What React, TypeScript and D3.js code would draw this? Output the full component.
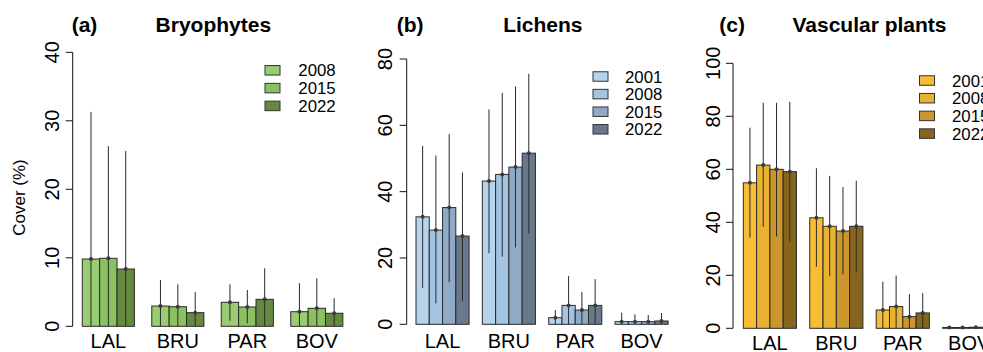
import React from "react";
import * as d3 from "d3";

const categories = ["LAL", "BRU", "PAR", "BOV"];

const bryoYears = ["2008", "2015", "2022"];
const bryoColors = ["#9acd72", "#8bc161", "#64893f"];
const bryoMean = [[9.82, 9.93, 8.36], [2.96, 2.86, 1.99], [3.5, 2.82, 3.94], [2.13, 2.63, 1.9]];
const bryoUpper = [[31.3, 26.3, 25.6], [6.76, 6.13, 5.0], [6.13, 5.3, 8.47], [6.28, 7.0, 4.1]];
const bryoLower = [[0, 0, 0], [0, 0, 0], [0.82, 0.43, 0], [0, 0, 0]];
const bryoTicks = [0, 10, 20, 30, 40];

const lichYears = ["2001", "2008", "2015", "2022"];
const lichColors = ["#b6d3ec", "#a4c4e4", "#8eaac7", "#68798c"];
const lichMean = [[32.4, 28.4, 35.2, 26.6], [43.2, 45.2, 47.4, 51.6], [2.0, 5.7, 4.3, 5.7], [0.8, 0.8, 0.8, 1.0]];
const lichUpper = [[53.8, 50.9, 57.4, 45.8], [64.8, 69.8, 71.7, 75.5], [4.3, 14.6, 9.8, 13.6], [3.5, 3.0, 2.8, 3.4]];
const lichLower = [[11.0, 6.3, 12.7, 7.1], [21.4, 20.4, 23.2, 27.4], [0, 0, 0, 0], [0, 0, 0, 0]];
const lichTicks = [0, 20, 40, 60, 80];

const vascYears = ["2001", "2008", "2015", "2022"];
const vascColors = ["#f9bc35", "#eab231", "#cb962b", "#86651d"];
const vascMean = [[54.9, 61.6, 60.0, 59.1], [41.7, 38.5, 36.7, 38.5], [6.9, 8.2, 4.4, 5.8], [0.3, 0.3, 0.4, 0.3]];
const vascUpper = [[75.7, 85.1, 85.1, 85.5], [60.4, 57.5, 53.3, 55.7], [17.6, 19.9, 12.9, 13.3], [0.6, 0.6, 0.7, 0.6]];
const vascLower = [[34.2, 38.3, 34.6, 32.7], [23.2, 19.7, 20.4, 21.1], [0, 0, 0, 0], [0, 0, 0, 0]];
const vascTicks = [0, 20, 40, 60, 80, 100];

const FONT = "'Liberation Sans', Arial, Helvetica, sans-serif";

type PanelProps = {
  tag: string;
  title: string;
  years: string[];
  colors: string[];
  mean: number[][];
  upper: number[][];
  lower: number[][];
  ticks: number[];
  layout: {
    axisX: number;
    yBottom: number;
    yTop: number;
    firstBarX: number;
    unit: number;
    plotRight: number;
    tickLabelX: number;
    catBaseline: number;
    tagX: number;
    legBoxX: number;
    legTextX: number;
    legRow0: number;
    legStep: number;
  };
};

function Panel(p: PanelProps) {
  const L = p.layout;
  const n = p.years.length;
  const y = d3.scaleLinear().domain([0, p.ticks[p.ticks.length - 1]]).range([L.yBottom, L.yTop]);
  const x = d3.scaleLinear().domain([1, 2]).range([L.firstBarX, L.firstBarX + L.unit]);
  const titleCenter = (L.axisX + L.plotRight) / 2;
  const bars: React.ReactNode[] = [];
  const errs: React.ReactNode[] = [];
  categories.forEach((c, g) => {
    for (let i = 0; i < n; i++) {
      const left = g * (n + 1) + i + 1;
      const x0 = x(left);
      const x1 = x(left + 1);
      const m = p.mean[g][i];
      bars.push(
        <rect key={`b${g}-${i}`} x={x0} y={y(m)} width={x1 - x0} height={y(0) - y(m)}
          fill={p.colors[i]} stroke="#2a2a2a" strokeWidth={1} />
      );
      const cx = x(left + 0.5);
      errs.push(
        <g key={`e${g}-${i}`}>
          <line x1={cx} x2={cx} y1={y(p.lower[g][i])} y2={y(p.upper[g][i])} stroke="#2a2a2a" strokeWidth={1} />
          <circle cx={cx} cy={y(m)} r={2} fill="#3a3a3a" />
        </g>
      );
    }
  });
  return (
    <g>
      <text x={L.tagX} y={32} fontFamily={FONT} fontWeight="bold" fontSize={21}>{p.tag}</text>
      <text x={titleCenter} y={32} fontFamily={FONT} fontWeight="bold" fontSize={21} textAnchor="middle">{p.title}</text>
      <line x1={L.axisX} x2={L.axisX} y1={y(p.ticks[0])} y2={y(p.ticks[p.ticks.length - 1])} stroke="#111" strokeWidth={1} />
      {p.ticks.map((t) => (
        <g key={`t${t}`}>
          <line x1={L.axisX - 7} x2={L.axisX} y1={y(t)} y2={y(t)} stroke="#111" strokeWidth={1} />
          <text transform={`translate(${L.tickLabelX},${y(t)}) rotate(-90)`} textAnchor="middle"
            fontFamily={FONT} fontSize={20}>{t}</text>
        </g>
      ))}
      {bars}
      {errs}
      {categories.map((c, g) => (
        <text key={`c${c}`} x={x(g * (n + 1) + 1 + n / 2)} y={L.catBaseline} textAnchor="middle"
          fontFamily={FONT} fontSize={20}>{c}</text>
      ))}
      {p.years.map((yr, i) => {
        const cy = L.legRow0 + i * L.legStep;
        return (
          <g key={`l${yr}`}>
            <rect x={L.legBoxX} y={cy - 4.75} width={15} height={9.5} fill={p.colors[i]} stroke="#333" strokeWidth={1} />
            <text x={L.legTextX} y={cy + 6} fontFamily={FONT} fontSize={16.8}>{yr}</text>
          </g>
        );
      })}
    </g>
  );
}

export default function App() {
  return (
    <svg width={983} height={352} style={{ position: "absolute", left: 0, top: 0, background: "#fff" }}>
      <rect x={0} y={0} width={983} height={352} fill="#fff" />
      <text transform="translate(24.7,197.5) rotate(-90)" textAnchor="middle" fontFamily={FONT} fontSize={17}>Cover (%)</text>
      <Panel tag="(a)" title="Bryophytes" years={bryoYears} colors={bryoColors} mean={bryoMean}
        upper={bryoUpper} lower={bryoLower} ticks={bryoTicks}
        layout={{ axisX: 72.7, yBottom: 326.3, yTop: 52.3, firstBarX: 82.3, unit: 17.37, plotRight: 354,
          tickLabelX: 58.5, catBaseline: 347.5, tagX: 71.7, legBoxX: 265, legTextX: 298.3, legRow0: 70.3, legStep: 17.8 }} />
      <Panel tag="(b)" title="Lichens" years={lichYears} colors={lichColors} mean={lichMean}
        upper={lichUpper} lower={lichLower} ticks={lichTicks}
        layout={{ axisX: 406.7, yBottom: 324.3, yTop: 59, firstBarX: 416, unit: 13.27, plotRight: 679,
          tickLabelX: 391.7, catBaseline: 347.5, tagX: 396.7, legBoxX: 593, legTextX: 625, legRow0: 76.5, legStep: 17.6 }} />
      <Panel tag="(c)" title="Vascular plants" years={vascYears} colors={vascColors} mean={vascMean}
        upper={vascUpper} lower={vascLower} ticks={vascTicks}
        layout={{ axisX: 733, yBottom: 328.3, yTop: 63.3, firstBarX: 743.3, unit: 13.29, plotRight: 1006,
          tickLabelX: 720, catBaseline: 349.5, tagX: 719.3, legBoxX: 919.5, legTextX: 952, legRow0: 80.5, legStep: 17.7 }} />
    </svg>
  );
}
